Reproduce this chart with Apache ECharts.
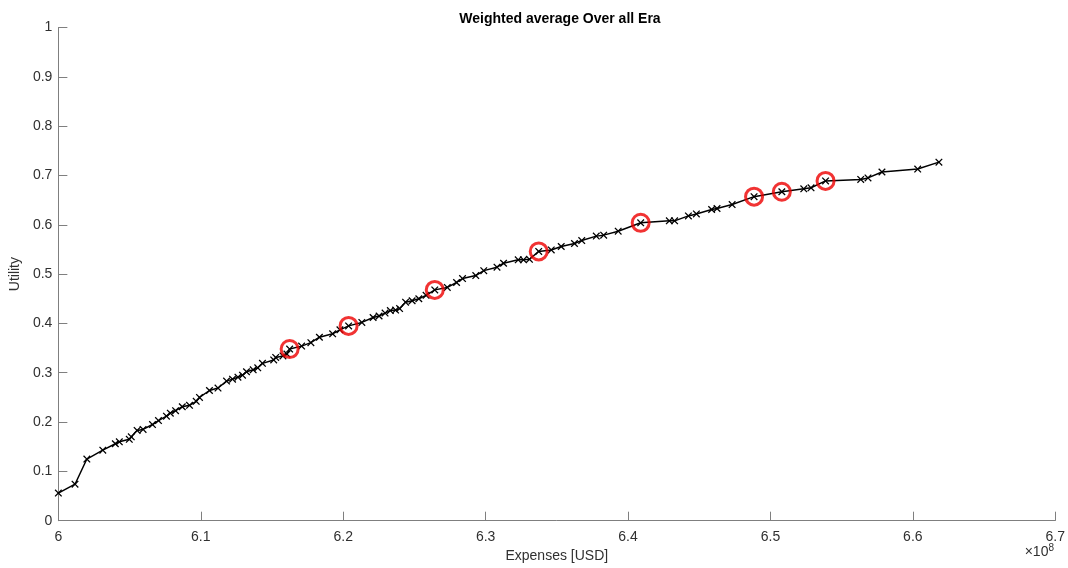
<!DOCTYPE html>
<html>
<head>
<meta charset="utf-8">
<title>Weighted average Over all Era</title>
<script src="https://cdn.jsdelivr.net/npm/echarts@6/dist/echarts.min.js"></script>
<style>
  html, body { margin: 0; padding: 0; background: #fff; }
  .chart { width: 1068px; height: 568px; }
</style>
</head>
<body>
<div class="chart"></div>
<script>
// expenses in units of 1e8 USD (axis shows the x10^8 factor)
const expenses = [
  6.000, 6.0117, 6.0200, 6.0312, 6.0400, 6.0428, 6.0498, 6.0512, 6.0553, 6.0595, 6.0661, 6.0703, 6.0759, 6.0786, 6.0823, 6.0870, 6.0921, 6.0968,
  6.0991, 6.1061, 6.1121, 6.1181, 6.1223, 6.1261, 6.1293, 6.1321, 6.1368, 6.1400, 6.1433, 6.1512, 6.1526, 6.1577, 6.1605, 6.1624,
  6.1708, 6.1773, 6.1833, 6.1926, 6.1977, 6.2038,
  6.2131, 6.2210, 6.2252, 6.2294, 6.2331, 6.2368, 6.2396, 6.2438, 6.2484, 6.2531, 6.2582, 6.2643,
  6.2731, 6.2796, 6.2838, 6.2931, 6.2987, 6.3080, 6.3126, 6.3229, 6.3266, 6.3308, 6.3373,
  6.3461, 6.3531, 6.3624, 6.3675, 6.3777, 6.3829, 6.3931, 6.4089,
  6.4290, 6.4327, 6.4424, 6.4480, 6.4587, 6.4625, 6.4731, 6.4885,
  6.5080, 6.5234, 6.5285, 6.5387, 6.5634, 6.5685, 6.5783, 6.6034, 6.6183
];
const utility = [
  0.056, 0.074, 0.125, 0.143, 0.156, 0.160, 0.165, 0.170, 0.183, 0.185, 0.195, 0.203, 0.212, 0.218, 0.223, 0.231, 0.234, 0.242,
  0.250, 0.264, 0.269, 0.283, 0.287, 0.291, 0.295, 0.302, 0.306, 0.310, 0.319, 0.326, 0.331, 0.334, 0.338, 0.348,
  0.354, 0.361, 0.372, 0.379, 0.387, 0.395,
  0.402, 0.412, 0.415, 0.421, 0.426, 0.427, 0.430, 0.443, 0.446, 0.450, 0.457, 0.468,
  0.473, 0.483, 0.491, 0.497, 0.507, 0.514, 0.522, 0.529, 0.529, 0.530, 0.546,
  0.549, 0.556, 0.562, 0.568, 0.577, 0.579, 0.587, 0.604,
  0.608, 0.608, 0.618, 0.622, 0.631, 0.633, 0.641, 0.657,
  0.667, 0.673, 0.675, 0.689, 0.692, 0.695, 0.707, 0.713, 0.727
];
// points marked with a red circle
const highlighted = [33, 39, 51, 62, 70, 78, 79, 82];

const points = expenses.map((x, i) => [x, utility[i]]);
const marked = highlighted.map((i) => points[i]);

const font = 'Liberation Sans, Arial, Helvetica, sans-serif';
const axisColor = '#7f7f7f';
const textColor = '#303030';
const cross = 'path://M0,1.2L1.2,0L5,3.8L8.8,0L10,1.2L6.2,5L10,8.8L8.8,10L5,6.2L1.2,10L0,8.8L3.8,5Z';

const myChart = echarts.init(document.querySelector('.chart'));
myChart.setOption({
  animation: false,
  title: {
    text: 'Weighted average Over all Era',
    left: 555,
    textAlign: 'center',
    top: 7,
    textStyle: { fontFamily: font, fontSize: 14, fontWeight: 'bold', color: '#000' },
  },
  grid: { left: 54, right: 11, top: 27.5, bottom: 47.3 },
  xAxis: {
    type: 'value',
    min: 6,
    max: 6.7,
    interval: 0.1,
    name: 'Expenses [USD]',
    nameLocation: 'middle',
    nameGap: 28,
    nameTextStyle: { fontFamily: font, fontSize: 14, color: textColor },
    axisLine: { show: true, lineStyle: { color: axisColor, width: 1 } },
    axisTick: { show: true, inside: true, length: 9, lineStyle: { color: axisColor } },
    axisLabel: {
      margin: 9,
      fontFamily: font,
      fontSize: 14,
      color: textColor,
      formatter: (v) => String(Math.round(v * 10) / 10),
    },
    splitLine: { show: false },
  },
  yAxis: {
    type: 'value',
    min: 0,
    max: 1,
    interval: 0.1,
    name: 'Utility',
    nameLocation: 'middle',
    nameGap: 29,
    nameTextStyle: { fontFamily: font, fontSize: 14, color: textColor },
    axisLine: { show: true, lineStyle: { color: axisColor, width: 1 } },
    axisTick: { show: true, inside: true, length: 9, lineStyle: { color: axisColor } },
    axisLabel: {
      margin: 6,
      fontFamily: font,
      fontSize: 14,
      color: textColor,
      formatter: (v) => String(Math.round(v * 10) / 10),
    },
    splitLine: { show: false },
  },
  graphic: [
    {
      type: 'text',
      right: 14,
      top: 543,
      style: {
        text: '×10{sup|8}',
        fontFamily: font,
        fontSize: 14,
        fill: textColor,
        rich: { sup: { fontSize: 10, verticalAlign: 'top', padding: [0, 0, 8, 0], fill: textColor } },
      },
    },
  ],
  series: [
    {
      type: 'line',
      data: points,
      symbol: cross,
      symbolSize: 7.5,
      showAllSymbol: true,
      itemStyle: { color: '#000' },
      lineStyle: { color: '#000', width: 1.5 },
      z: 2,
    },
    {
      type: 'scatter',
      data: marked,
      symbol: 'circle',
      symbolSize: 17,
      itemStyle: { color: 'rgba(0,0,0,0)', borderColor: '#ee0000', borderWidth: 3 },
      z: 3,
    },
  ],
});
</script>
</body>
</html>
